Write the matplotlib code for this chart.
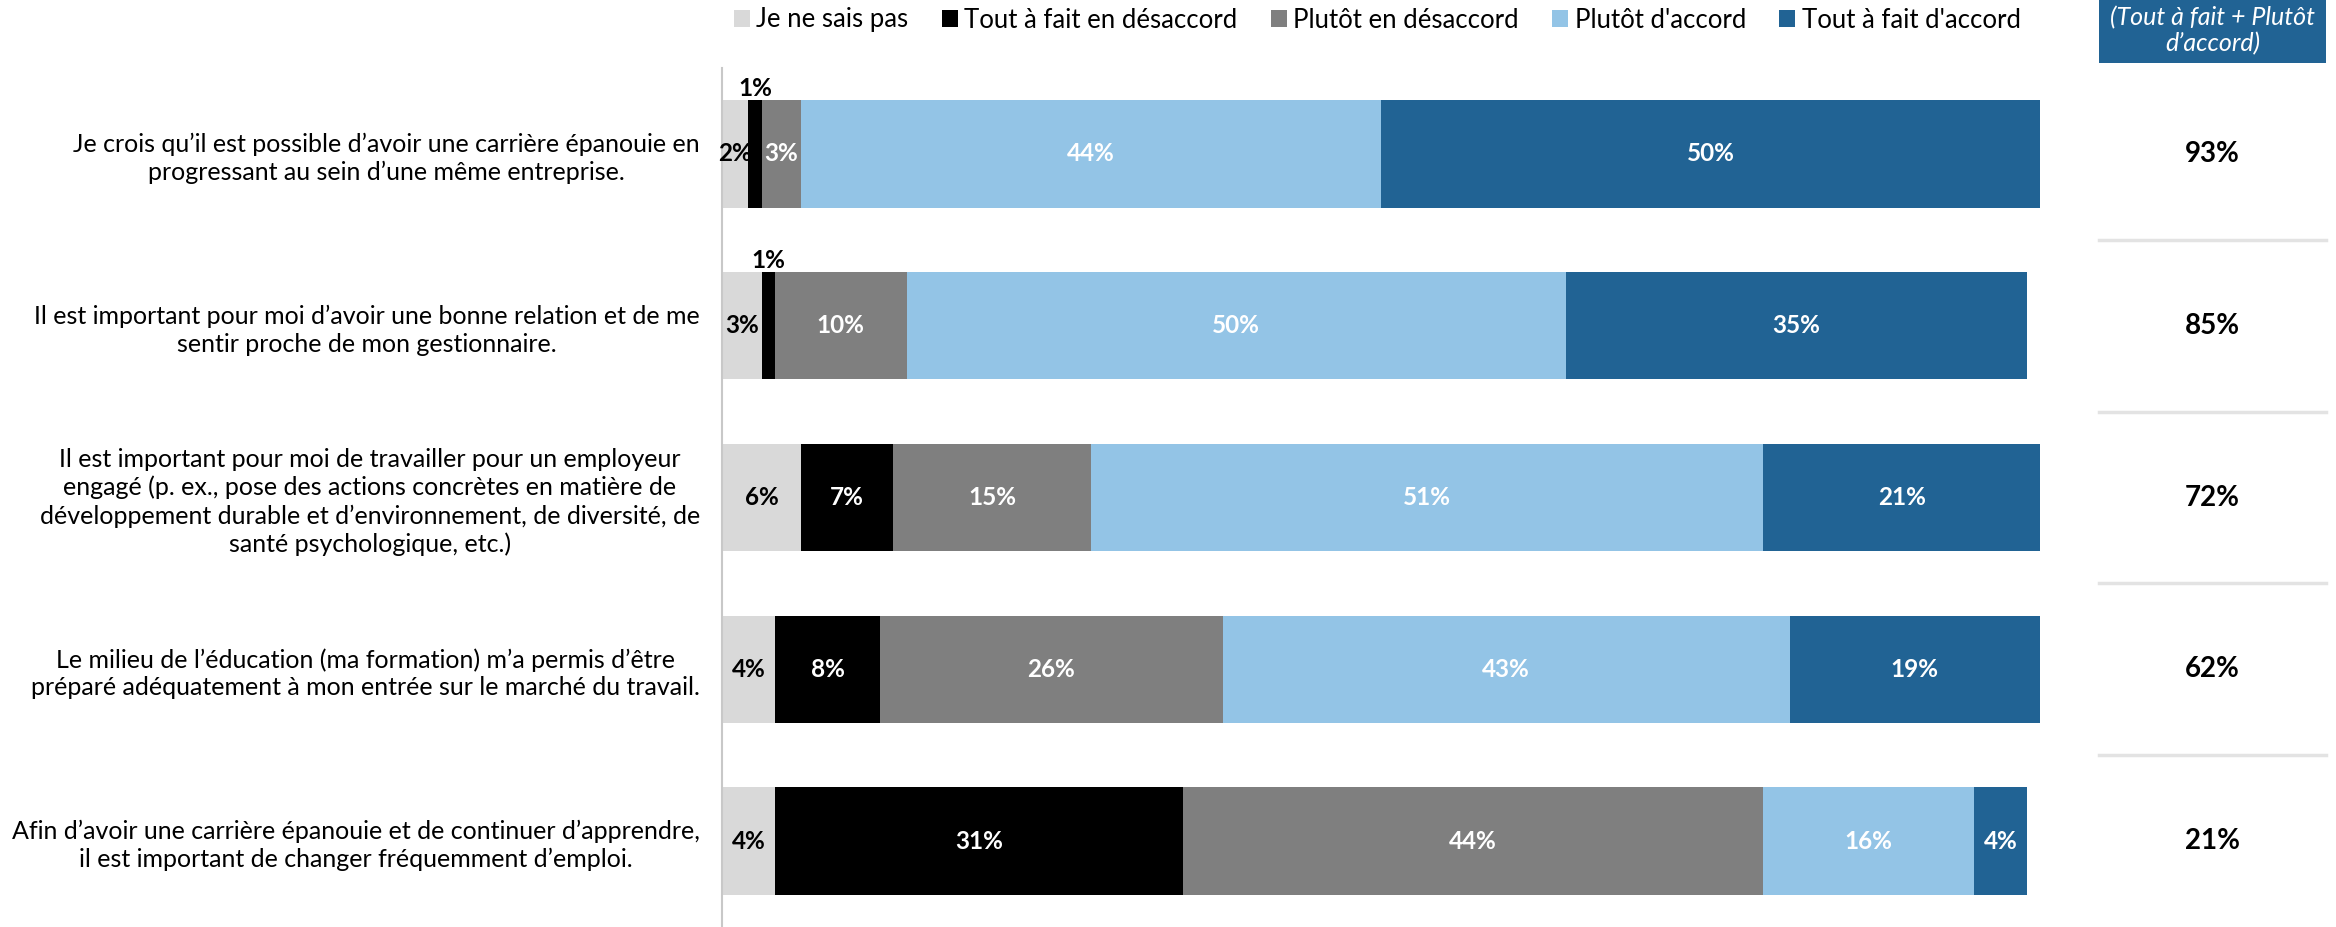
import matplotlib
matplotlib.use("Agg")
import matplotlib.pyplot as plt
import matplotlib.transforms as mtransforms
from matplotlib.patches import Rectangle
from matplotlib.lines import Line2D
import numpy as np

plt.rcParams['font.family'] = ['Lato', 'DejaVu Sans']

# ---- data -------------------------------------------------------------
categories = [
    "Je crois qu’il est possible d’avoir une carrière épanouie en\n"
    "progressant au sein d’une même entreprise.",
    "Il est important pour moi d’avoir une bonne relation et de me\n"
    "sentir proche de mon gestionnaire.",
    "Il est important pour moi de travailler pour un employeur\n"
    "engagé (p. ex., pose des actions concrètes en matière de\n"
    "développement durable et d’environnement, de diversité, de\n"
    "santé psychologique, etc.)",
    "Le milieu de l’éducation (ma formation) m’a permis d’être\n"
    "préparé adéquatement à mon entrée sur le marché du travail.",
    "Afin d’avoir une carrière épanouie et de continuer d’apprendre,\n"
    "il est important de changer fréquemment d’emploi.",
]
series_names = ["Je ne sais pas", "Tout à fait en désaccord",
                "Plutôt en désaccord", "Plutôt d'accord", "Tout à fait d'accord"]
je_ne_sais_pas = [2, 3, 6, 4, 4]
tout_desaccord = [1, 1, 7, 8, 31]
plutot_desaccord = [3, 10, 15, 26, 44]
plutot_accord = [44, 50, 51, 43, 16]
tout_accord = [50, 35, 21, 19, 4]
total_accord = [93, 85, 72, 62, 21]
total_header = "(Tout à fait + Plutôt\nd’accord)"

# ---- style ------------------------------------------------------------
colors = ["#D9D9D9", "#000000", "#7F7F7F", "#93C4E6", "#216394"]
text_colors = ["black", "white", "white", "white", "white"]
header_color = "#216394"

W, H, DPI = 2336, 927, 100
fig = plt.figure(figsize=(W / DPI, H / DPI), dpi=DPI)
fig.patch.set_facecolor("white")

ax = fig.add_axes([722 / W, 0, 1318 / W, 859 / H])

series = [je_ne_sais_pas, tout_desaccord, plutot_desaccord, plutot_accord, tout_accord]
y = np.arange(len(categories))
left = np.zeros(len(categories))
bar_h = 0.626
containers = []
for name, vals, col, tcol in zip(series_names, series, colors, text_colors):
    vals = np.asarray(vals, dtype=float)
    bc = ax.barh(y, vals, left=left, height=bar_h, color=col, label=name, linewidth=0)
    containers.append(bc)
    for yi, l, v in zip(y, left, vals):
        cx = l + v / 2
        if v <= 1:
            # segment too thin: put its value just above the bar
            ax.text(cx, yi - bar_h / 2 - 0.002, f"{v:g}%", ha="center", va="bottom",
                    color="black", fontsize=17.5, fontweight="bold")
        else:
            ax.text(cx, yi, f"{v:g}%", ha="center", va="center",
                    color=tcol, fontsize=17.5, fontweight="bold")
    left += vals

ax.set_xlim(0, 100)
ax.set_ylim(len(categories) - 0.5, -0.5)
ax.set_xticks([])
ax.set_yticks(y)
ax.set_yticklabels(categories, fontsize=17)
ax.tick_params(axis="y", length=0, pad=16)
for t in ax.get_yticklabels():
    t.set_multialignment("center")
    t.set_linespacing(1.25)
for s in ("top", "right", "bottom"):
    ax.spines[s].set_visible(False)
ax.spines["left"].set_color("#C8C8C8")
ax.spines["left"].set_linewidth(1.5)

# fit category labels to the available width
fig.canvas.draw()
renderer = fig.canvas.get_renderer()
widest = max(t.get_window_extent(renderer).width for t in ax.get_yticklabels())
scale = 690 / widest
for t in ax.get_yticklabels():
    t.set_fontsize(t.get_fontsize() * scale)

# legend across the top
fig.legend(handles=containers, labels=series_names, loc="center left",
           bbox_to_anchor=(734 / W, 1 - 20 / H), ncol=5, frameon=False,
           fontsize=18.5, handlelength=0.62, handleheight=0.62,
           handletextpad=0.25, columnspacing=1.3, borderpad=0, borderaxespad=0)

# summary column on the right
trans = mtransforms.blended_transform_factory(fig.transFigure, ax.transData)
col_l, col_r = 2099 / W, 2326 / W
col_c = (col_l + col_r) / 2
fig.add_artist(Rectangle((col_l, 1 - 63 / H), col_r - col_l, 63 / H,
                         transform=fig.transFigure, facecolor=header_color,
                         edgecolor="none"))
fig.text(col_c, 1 - 31 / H, total_header, ha="center", va="center", color="white",
         style="italic", fontsize=18, linespacing=1.15)
for yi, v in zip(y, total_accord):
    ax.text(col_c, yi, f"{v}%", transform=trans, ha="center", va="center",
            fontsize=20, fontweight="bold", color="black", clip_on=False)
for i in range(len(categories) - 1):
    ax.add_line(Line2D([col_l, col_r], [i + 0.5, i + 0.5], transform=trans,
                       color="#E3E3E3", linewidth=2.5, clip_on=False))

fig.savefig("out.png", dpi=DPI, facecolor="white")
